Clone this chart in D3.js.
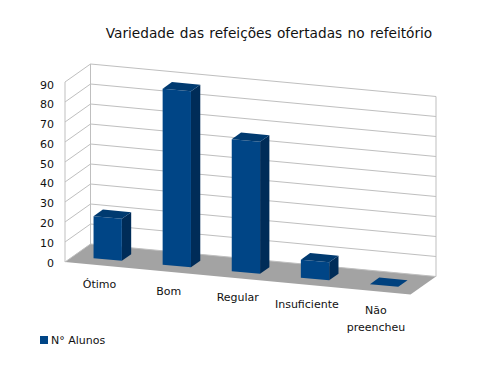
<!DOCTYPE html>
<html>
<head>
<meta charset="utf-8">
<script src="https://cdn.jsdelivr.net/npm/d3@7"></script>
<style>
  html, body { margin: 0; padding: 0; background: #fff; }
  text { font-family: "DejaVu Sans", sans-serif; fill: #111; }
</style>
</head>
<body>
<div id="chart"></div>
<script>
const categories = ['Ótimo', 'Bom', 'Regular', 'Insuficiente', 'Não preencheu'];
const alunos = [21, 88, 66, 9, 0];
const yTicks = [0, 10, 20, 30, 40, 50, 60, 70, 80, 90];
const seriesName = 'N° Alunos';
const titleText = 'Variedade das refeições ofertadas no refeitório';

const width = 500;
const height = 375;

const svg = d3.select('#chart').append('svg')
  .attr('width', width)
  .attr('height', height);

// oblique projection of the 3d box: u along the categories, d into the depth
const origin = [65, 262];
const uEnd = [345.5, 32.5];
const dEnd = [25.5, -18];

const uScale = d3.scaleBand().domain(categories).range([0, 1]).paddingInner(0.59).paddingOuter(0.295);
const dScale = d3.scaleLinear().domain([0, 1]).range([0, 1]);
const yScale = d3.scaleLinear().domain([0, 90]).range([0, 180]);

const project = (u, d, v) => [
  origin[0] + u * uEnd[0] + dScale(d) * dEnd[0],
  origin[1] + u * uEnd[1] + dScale(d) * dEnd[1] - yScale(v),
];
const poly = pts => `M${pts.map(p => p.join(',')).join('L')}Z`;

// floor
svg.append('path')
  .attr('d', poly([project(0, 0, 0), project(1, 0, 0), project(1, 1, 0), project(0, 1, 0)]))
  .attr('fill', '#a3a3a3');

// walls and gridlines
const grid = svg.append('g').attr('fill', 'none').attr('stroke', '#bfbfbf').attr('stroke-width', 1);
yTicks.forEach((t) => {
  const pts = [project(0, 0, t), project(0, 1, t), project(1, 1, t)];
  grid.append('path').attr('d', `M${pts.map(p => p.join(',')).join('L')}`);
});
[[project(0, 0, 0), project(0, 0, 90)], [project(0, 1, 0), project(0, 1, 90)], [project(1, 1, 0), project(1, 1, 90)]]
  .forEach((l) => {
    grid.append('path').attr('d', `M${l[0].join(',')}L${l[1].join(',')}`);
  });

// bars
const dFront = 0.32;
const dBack = 0.685;
const bars = svg.append('g').selectAll('g').data(categories).join('g');
bars.each(function (c, i) {
  const g = d3.select(this);
  const v = alunos[i];
  const u0 = uScale(c);
  const u1 = u0 + uScale.bandwidth();
  if (v > 0) {
    g.append('path')
      .attr('d', poly([project(u1, dFront, 0), project(u1, dBack, 0), project(u1, dBack, v), project(u1, dFront, v)]))
      .attr('fill', '#002c58');
    g.append('path')
      .attr('d', poly([project(u0, dFront, 0), project(u1, dFront, 0), project(u1, dFront, v), project(u0, dFront, v)]))
      .attr('fill', '#004586');
  }
  g.append('path')
    .attr('d', poly([project(u0, dFront, v), project(u1, dFront, v), project(u1, dBack, v), project(u0, dBack, v)]))
    .attr('fill', v > 0 ? '#003a70' : '#00417e');
});

// value axis, labels sit just left of the front edge of the wall
const axisScale = d3.scaleLinear().domain([0, 90]).range([262.5, 84.5]);
const axis = svg.append('g')
  .attr('transform', `translate(${origin[0] - 11},0)`)
  .call(d3.axisLeft(axisScale).tickValues(yTicks).tickSize(0).tickPadding(0));
axis.select('.domain').remove();
axis.selectAll('text')
  .style('font-family', '"DejaVu Sans", sans-serif')
  .style('font-size', '11px')
  .attr('fill', '#111');

// category labels follow the sloped front edge
const labels = svg.append('g').attr('font-size', 11).attr('text-anchor', 'middle');
categories.forEach((c) => {
  const mid = uScale(c) + uScale.bandwidth() / 2;
  const p = project(mid, 0, 0);
  const words = c === 'Não preencheu' ? c.split(' ') : [c];
  const t = labels.append('text').attr('x', p[0]).attr('y', p[1] + 23);
  words.forEach((w, j) => {
    t.append('tspan').attr('x', p[0]).attr('dy', j ? 17 : 0).text(w);
  });
});

// title
svg.append('text')
  .attr('x', 269)
  .attr('y', 38)
  .attr('text-anchor', 'middle')
  .attr('font-size', 13.7)
  .attr('word-spacing', 1)
  .text(titleText);

// legend
svg.append('rect').attr('x', 40).attr('y', 336).attr('width', 8).attr('height', 8).attr('fill', '#004586');
svg.append('text').attr('x', 51).attr('y', 344).attr('font-size', 11).text(seriesName);
</script>
</body>
</html>
